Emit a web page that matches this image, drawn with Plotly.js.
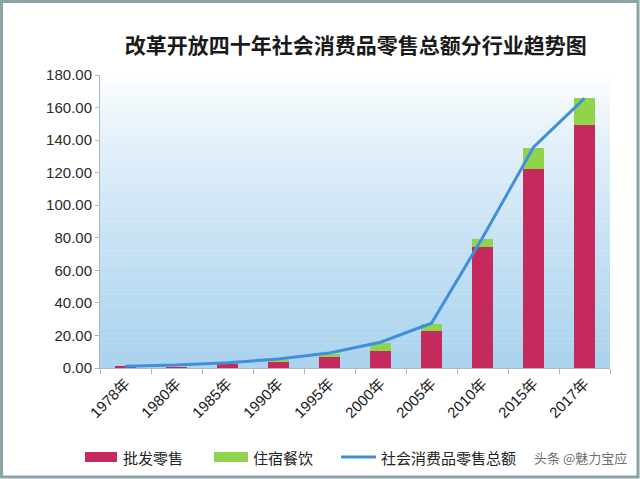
<!DOCTYPE html>
<html>
<head>
<meta charset="utf-8">
<script src="https://cdn.plot.ly/plotly-3.0.1.min.js"></script>
<style>
  html, body { margin: 0; padding: 0; background: #ffffff; }
  #chart { width: 640px; height: 479px; }
</style>
</head>
<body>
<div id="chart"></div>
<script>
// ---- data ----
const categories = ['1978年', '1980年', '1985年', '1990年', '1995年', '2000年', '2005年', '2010年', '2015年', '2017年'];
const wholesaleRetail = [1.2, 0.8, 2.5, 3.8, 7.0, 10.6, 23.0, 74.4, 122.5, 149.2];
const accommodationCatering = [0.1, 0.1, 0.4, 1.0, 1.3, 5.0, 4.3, 4.9, 12.9, 16.4];
const totalRetail = [1.0, 1.8, 3.3, 5.5, 9.2, 15.8, 27.5, 80.0, 135.6, 165.6];
const yTicks = [0, 20, 40, 60, 80, 100, 120, 140, 160, 180];

const seriesNames = ['批发零售', '住宿餐饮', '社会消费品零售总额'];
const seriesColors = ['#c42a5c', '#8fd44a', '#3f8fdc'];
const titleText = '改革开放四十年社会消费品零售总额分行业趋势图';
const watermark = '头条 @魅力宝应';

// plot area geometry (pixels) for converting styling positions to paper coords
const PL = 100, PR = 610, PT = 75, PB = 368;
const px = v => (v - PL) / (PR - PL);
const py = v => (PB - v) / (PB - PT);

// ---- gradient background for plot area (styling only) ----
const shapes = [];
const nBands = 60;
const gradTop = [255, 255, 255], gradBottom = [170, 211, 238];
for (let i = 0; i < nBands; i++) {
  const t = (i + 0.5) / nBands;
  const k = Math.pow(t, 0.75);
  const c = gradTop.map((v, j) => Math.round(v + (gradBottom[j] - v) * k));
  shapes.push({
    type: 'rect', xref: 'paper', yref: 'paper', layer: 'below',
    x0: 0, x1: 1, y0: 1 - (i + 1) / nBands, y1: 1 - i / nBands + 0.001,
    fillcolor: `rgb(${c[0]},${c[1]},${c[2]})`, line: { width: 0 }
  });
}
// outer frame
shapes.push({
  type: 'rect', xref: 'paper', yref: 'paper', layer: 'above',
  x0: px(1.5), x1: px(638), y0: py(477), y1: py(1.5),
  line: { color: '#8aa5a8', width: 3 }, fillcolor: 'rgba(0,0,0,0)'
});
// legend swatches (drawn manually to match wide rectangles)
const legY = 457;
shapes.push({ type: 'rect', xref: 'paper', yref: 'paper', x0: px(85), x1: px(117), y0: py(462), y1: py(452),
  fillcolor: seriesColors[0], line: { width: 0 } });
shapes.push({ type: 'rect', xref: 'paper', yref: 'paper', x0: px(214), x1: px(248), y0: py(462), y1: py(452),
  fillcolor: seriesColors[1], line: { width: 0 } });
shapes.push({ type: 'line', xref: 'paper', yref: 'paper', x0: px(341), x1: px(376), y0: py(legY), y1: py(legY),
  line: { color: seriesColors[2], width: 3 } });

const cjk = '"Noto Sans CJK SC", "Liberation Sans", sans-serif';
const num = '"Liberation Sans", "Noto Sans CJK SC", sans-serif';

const traces = [
  { type: 'bar', name: seriesNames[0], x: categories, y: wholesaleRetail, marker: { color: seriesColors[0] } },
  { type: 'bar', name: seriesNames[1], x: categories, y: accommodationCatering, marker: { color: seriesColors[1] } },
  { type: 'scatter', mode: 'lines', name: seriesNames[2], x: categories, y: totalRetail,
    line: { color: seriesColors[2], width: 3 } }
];

const legFont = { family: cjk, size: 15, color: '#222222' };
const layout = {
  width: 640, height: 479,
  margin: { l: PL, r: 640 - PR, t: PT, b: 479 - PB },
  paper_bgcolor: '#ffffff',
  plot_bgcolor: 'rgba(0,0,0,0)',
  barmode: 'stack',
  bargap: 0.6,
  showlegend: false,
  title: {
    text: titleText,
    font: { family: cjk, size: 21, color: '#1a1a1a', weight: 'bold' },
    x: 0.556, xanchor: 'center', y: 0.905, yanchor: 'middle'
  },
  xaxis: {
    type: 'category', automargin: false,
    tickangle: -45,
    tickfont: { family: num, size: 15, color: '#1a1a1a' },
    showline: true, linecolor: '#a9b9c3', linewidth: 1,
    ticks: 'outside', ticklen: 5, tickcolor: '#a9b9c3',
    tickson: 'boundaries',
    showgrid: false, zeroline: false
  },
  yaxis: {
    automargin: false,
    range: [0, 180],
    tickvals: yTicks,
    tickformat: '.2f',
    tickfont: { family: num, size: 15, color: '#2a2a2a' },
    showline: true, linecolor: '#a9b9c3', linewidth: 1,
    ticks: 'outside', ticklen: 4, tickcolor: '#a9b9c3',
    showgrid: false, zeroline: false
  },
  annotations: [
    { xref: 'paper', yref: 'paper', x: px(121), y: py(legY), xanchor: 'left', yanchor: 'middle',
      text: seriesNames[0], showarrow: false, font: legFont },
    { xref: 'paper', yref: 'paper', x: px(251), y: py(legY), xanchor: 'left', yanchor: 'middle',
      text: seriesNames[1], showarrow: false, font: legFont },
    { xref: 'paper', yref: 'paper', x: px(379), y: py(legY), xanchor: 'left', yanchor: 'middle',
      text: seriesNames[2], showarrow: false, font: legFont },
    { xref: 'paper', yref: 'paper', x: px(629), y: py(legY), xanchor: 'right', yanchor: 'middle',
      text: watermark, showarrow: false,
      font: { family: cjk, size: 13, color: 'rgba(70,70,70,0.8)' } }
  ],
  shapes: shapes
};

Plotly.newPlot('chart', traces, layout, { displayModeBar: false, staticPlot: true });
</script>
</body>
</html>
